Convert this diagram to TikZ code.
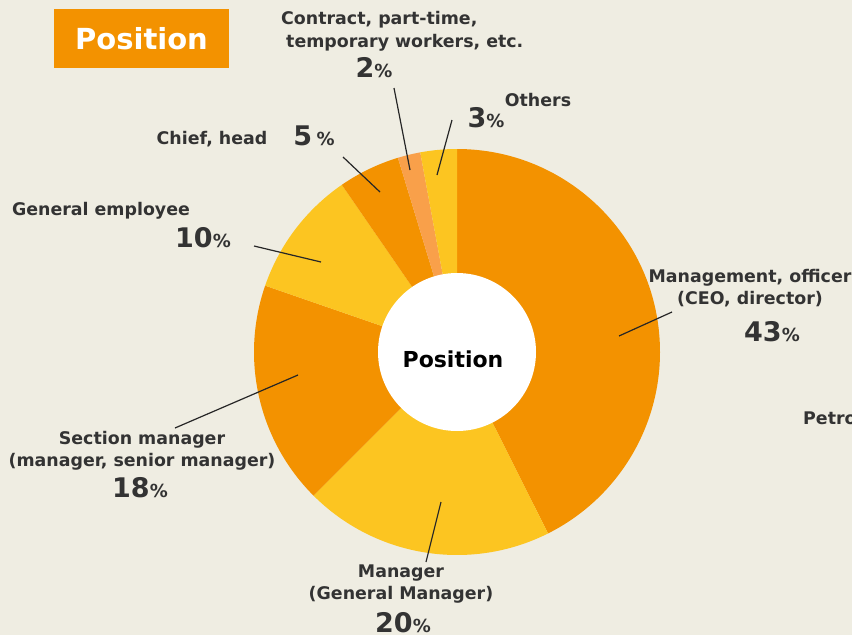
\documentclass[tikz,border=0pt]{standalone}
\usepackage{fontspec}
\setmainfont{DejaVu Sans}
\usepackage{tikz}
\usetikzlibrary{positioning}
\definecolor{bgbeige}{HTML}{EFEDE2}
\definecolor{darkorange}{HTML}{F39200}
\definecolor{sunyellow}{HTML}{FCC521}
\definecolor{lightorange}{HTML}{F9A04A}
\definecolor{labelgray}{HTML}{333333}
\newcommand{\pctval}[2][]{{\fontsize{27}{27}\selectfont #2#1}{\fontsize{18}{18}\selectfont\%}}

\begin{document}
\begin{tikzpicture}[x=1pt,y=-1pt,
  lbl/.style={inner sep=0pt,text=labelgray,font=\fontsize{17.4}{22.5}\selectfont\bfseries,align=center},
  pct/.style={inner sep=0pt,text=labelgray,font=\bfseries},
  leader/.style={line width=1.2pt,black!85}]
\useasboundingbox (0,0) rectangle (852,635);
\fill[bgbeige] (0,0) rectangle (852,635);
\begin{scope}[shift={(457,352)},y=1pt]
\fill[darkorange] (0,0) -- (90:203) arc[start angle=90,end angle=-63.36,radius=203] -- cycle;
\fill[sunyellow] (0,0) -- (-63.36:203) arc[start angle=-63.36,end angle=-135,radius=203] -- cycle;
\fill[darkorange] (0,0) -- (-135:203) arc[start angle=-135,end angle=-199.08,radius=203] -- cycle;
\fill[sunyellow] (0,0) -- (-199.08:203) arc[start angle=-199.08,end angle=-235.44,radius=203] -- cycle;
\fill[darkorange] (0,0) -- (-235.44:203) arc[start angle=-235.44,end angle=-253.08,radius=203] -- cycle;
\fill[lightorange] (0,0) -- (-253.08:203) arc[start angle=-253.08,end angle=-259.56,radius=203] -- cycle;
\fill[sunyellow] (0,0) -- (-259.56:203) arc[start angle=-259.56,end angle=-270,radius=203] -- cycle;
\end{scope}
\node[circle,fill=white,minimum size=158pt,inner sep=0pt] (hub) at (457,352) {};
\node[inner sep=0pt,font=\fontsize{22}{22}\selectfont\bfseries] (hubtext) at (453,359) {Position};

\node[fill=darkorange,minimum width=175pt,minimum height=59pt,inner sep=0pt,text=white,font=\fontsize{29}{29}\selectfont\bfseries] (title) at (141.5,38.5) {Position};

\node[lbl,anchor=west] (contract) at (281,20) {Contract, part-time,};
\node[lbl,anchor=west] (contract2) at (286,43) {temporary workers, etc.};
\node[pct] (contractpct) at (374,68) {\pctval{2}};
\node[lbl] (others) at (538,100) {Others};
\node[pct] (otherspct) at (486,118) {\pctval{3}};
\node[lbl] (chief) at (212,139) {Chief, head};
\node[pct] (chiefpct) at (314,136) {\pctval[\,]{5}};
\node[lbl] (general) at (101,211) {General employee};
\node[pct] (generalpct) at (203,238) {\pctval{10}};
\node[lbl] (mgmt) at (750,288) {Management, officer\\(CEO, director)};
\node[pct] (mgmtpct) at (772,332) {\pctval{43}};
\node[lbl,anchor=west] (petro) at (803,418) {Petro};
\node[lbl] (section) at (142,451) {Section manager\\(manager, senior manager)};
\node[pct] (sectionpct) at (140,488) {\pctval{18}};
\node[lbl] (manager) at (401,584) {Manager\\(General Manager)};
\node[pct] (managerpct) at (403,623) {\pctval{20}};

\coordinate (contractA) at (394,88);
\coordinate (contractB) at (410,170);
\coordinate (othersA) at (452,120);
\coordinate (othersB) at (437,175);
\coordinate (chiefA) at (343,157);
\coordinate (chiefB) at (380,192);
\coordinate (generalA) at (254,246);
\coordinate (generalB) at (321,262);
\coordinate (mgmtA) at (672,312);
\coordinate (mgmtB) at (619,336);
\coordinate (sectionA) at (175,428);
\coordinate (sectionB) at (298,375);
\coordinate (managerA) at (426,562);
\coordinate (managerB) at (441,502);
\draw[leader] (contractA) -- (contractB);
\draw[leader] (othersA) -- (othersB);
\draw[leader] (chiefA) -- (chiefB);
\draw[leader] (generalA) -- (generalB);
\draw[leader] (mgmtA) -- (mgmtB);
\draw[leader] (sectionA) -- (sectionB);
\draw[leader] (managerA) -- (managerB);
\end{tikzpicture}
\end{document}
